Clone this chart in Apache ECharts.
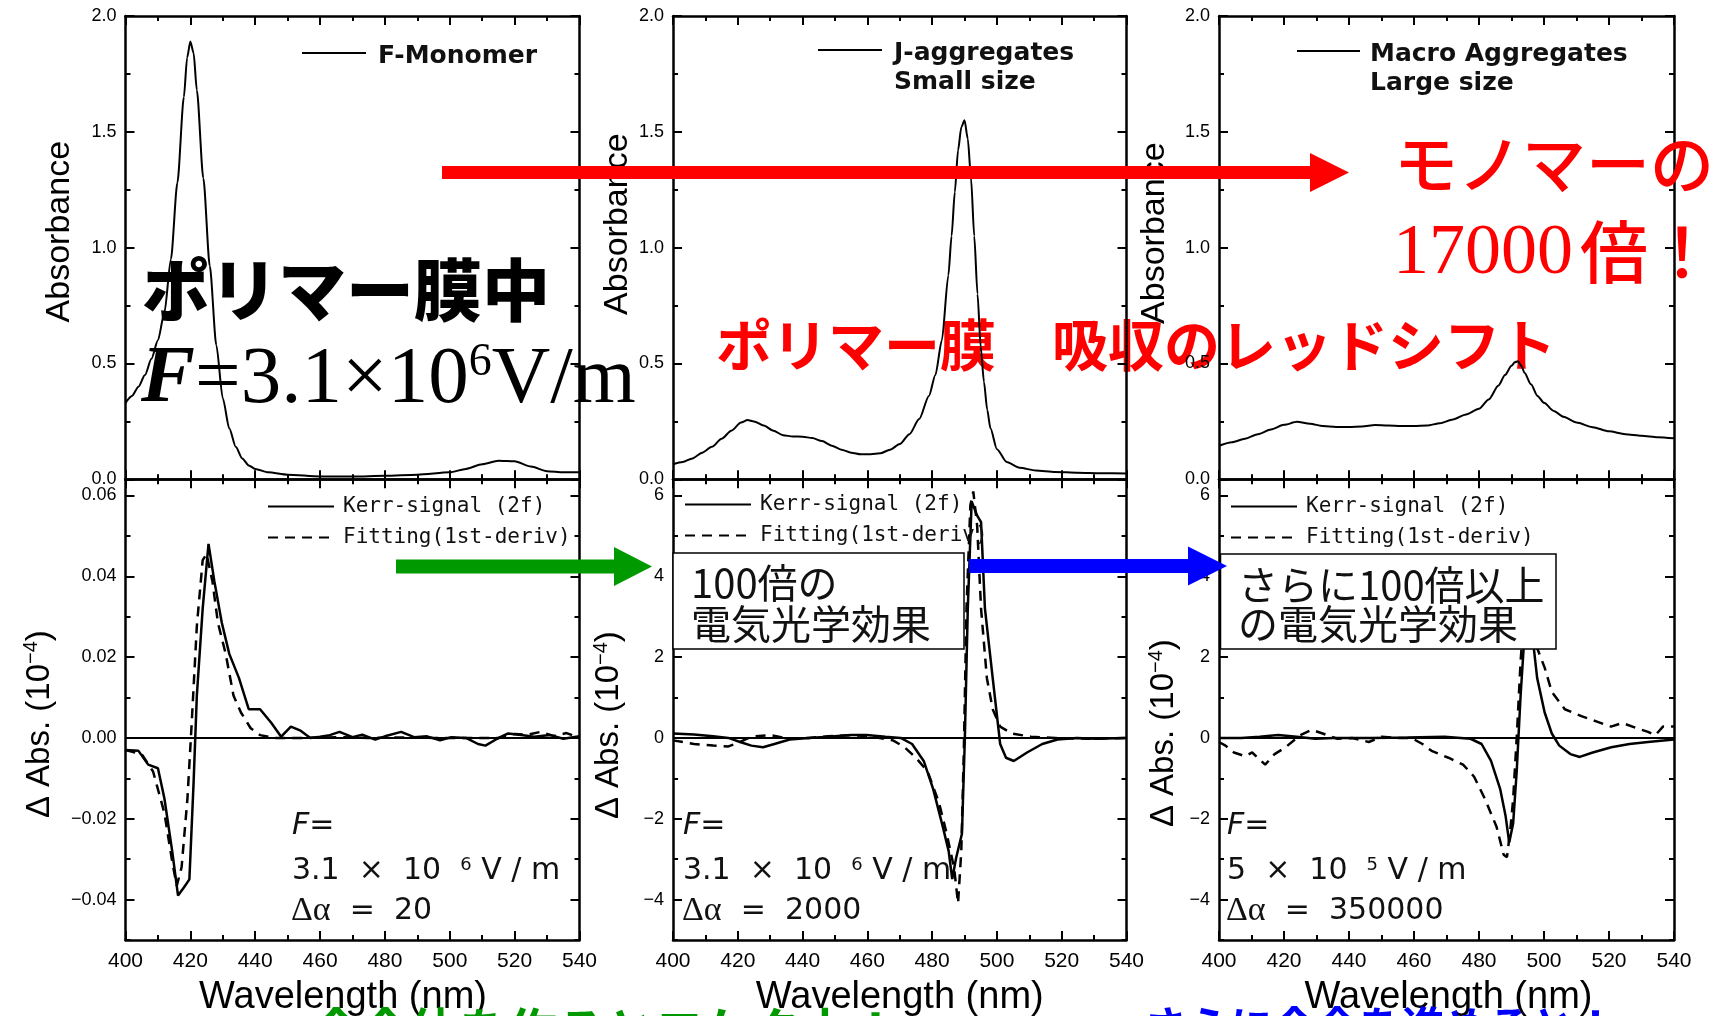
<!DOCTYPE html>
<html>
<head>
<meta charset="utf-8">
<script src="https://cdn.jsdelivr.net/npm/echarts@6/dist/echarts.min.js"></script>
<style>
html,body{margin:0;padding:0;background:#fff;}
#c{width:1710px;height:1016px;}
</style>
</head>
<body>
<div id="c"></div>
<script>
// ---- absorbance spectra (top row) ----
const monoWl  = [400,402,404,406,408,410,412,414,416,418,419,420,421,422,424,426,428,430,432,434,436,438,440,444,450,460,470,480,490,500,505,510,515,520,525,530,535,540];
const monoAbs = [0.33,0.36,0.40,0.45,0.52,0.60,0.72,0.95,1.28,1.65,1.82,1.89,1.84,1.68,1.30,0.92,0.58,0.35,0.22,0.14,0.09,0.06,0.045,0.03,0.02,0.012,0.012,0.015,0.02,0.03,0.045,0.065,0.08,0.078,0.055,0.035,0.03,0.03];

const jWl  = [400,403,406,409,412,415,418,421,423,425,428,431,434,437,440,443,446,449,452,455,458,461,464,467,470,473,476,479,481,483,485,486,487,488,489,490,491,492,493,494,495,496,497,498,500,503,507,512,518,525,532,540];
const jAbs = [0.065,0.075,0.09,0.115,0.14,0.175,0.21,0.245,0.256,0.25,0.232,0.21,0.19,0.185,0.184,0.178,0.165,0.145,0.128,0.115,0.108,0.108,0.112,0.128,0.152,0.195,0.26,0.36,0.45,0.6,0.88,1.05,1.24,1.42,1.52,1.55,1.47,1.3,1.05,0.8,0.57,0.42,0.3,0.22,0.13,0.075,0.05,0.038,0.032,0.028,0.026,0.025];

const macWl  = [400,404,408,412,416,420,424,428,432,436,440,444,448,452,456,460,464,468,472,476,480,483,486,488,490,491,492,493,494,496,498,500,503,506,510,515,520,525,530,535,540];
const macAbs = [0.145,0.16,0.175,0.195,0.215,0.235,0.248,0.24,0.23,0.226,0.226,0.228,0.234,0.232,0.23,0.23,0.232,0.242,0.258,0.28,0.305,0.345,0.405,0.45,0.49,0.505,0.51,0.49,0.46,0.41,0.36,0.33,0.295,0.27,0.245,0.225,0.207,0.195,0.188,0.182,0.177];

// ---- electroabsorption (bottom row): Kerr signal and 1st-derivative fit ----
const k1Wl  = [400,404,407,410,412,414.4,416.2,418,419.7,421,422,423.8,425.6,427.4,429.7,432,435,438,441.5,445,448,451,454,457,460,463,466,470,473,477,480,485,489,493,497,500.5,505,508.7,511,514.6,518,522,526,531,535,540];
const k1Val = [-0.003,-0.0032,-0.0066,-0.0075,-0.015,-0.028,-0.039,-0.037,-0.035,-0.011,0.0105,0.032,0.048,0.0388,0.0285,0.0208,0.0148,0.0071,0.0071,0.0037,0.0003,0.0028,0.0018,0,0.0003,0.0007,0.0015,0.0002,0.0008,-0.0004,0.0004,0.0015,0.0002,0.0004,-0.0006,0.0002,0,-0.0015,-0.0019,-0.0002,0.0011,0.0007,0.0003,0.0007,-0.0002,0.0004];
const f1Wl  = [400,405,408.5,412,414.4,415.8,417.3,419.1,420.3,422,423.8,425,426.8,428.5,430.9,433.3,435.6,438.6,441.5,446,455,465,475,485,495,505,515,520,524,528,532,536,540];
const f1Val = [-0.003,-0.004,-0.0083,-0.0186,-0.0306,-0.0366,-0.032,-0.015,0.002,0.0277,0.044,0.0455,0.0388,0.0285,0.0208,0.0105,0.0063,0.0024,0.0007,0,0,0.0002,0,0.0001,0,0,0,0.001,0.0008,0.0015,0.0005,0.0012,0];

const k2Wl  = [400,406.5,412.4,417.1,420.7,424.2,427.8,431.3,436,441.9,447.8,454.9,459.7,465.6,470.3,473.8,477.4,480.3,483.3,485.1,486.2,487.4,489.2,490.1,491,492.2,493.9,495.1,496.3,498.7,501,502.8,505.2,509.3,514,518.7,524.6,530.5,540];
const k2Val = [0.11,0.086,0.04,0,-0.1,-0.19,-0.23,-0.15,-0.04,0,0.03,0.07,0.07,0.03,0,-0.15,-0.57,-1.26,-2.2,-2.8,-3.49,-2.97,-2.37,0,3.2,5.85,5.5,5.34,3.2,1.48,-0.15,-0.49,-0.57,-0.36,-0.15,-0.04,0,-0.02,0];
const f2Wl  = [400,406.5,412.4,417.1,420.7,424.2,430.1,436,441.9,447.8,454.9,461,467.9,471.5,475,478.6,482.1,484.5,486.8,488,489,489.8,490.6,491.8,492.7,493.9,495.1,496.9,498.7,501,504.6,510.5,518,528,540];
const f2Val = [-0.06,-0.15,-0.19,-0.21,-0.1,0.03,0.07,-0.02,0,0.04,0.07,0.04,-0.06,-0.23,-0.49,-0.83,-1.6,-2.37,-3.23,-4.09,-2.8,-0.23,3.2,5.76,6.1,5.25,3.2,1.48,0.71,0.28,0.11,0.03,0,-0.02,0];

const k3Wl  = [400,406.8,412.5,418.2,423.9,429.6,435.3,446.7,458,469.4,477.4,480.8,483.7,486.5,488.2,489.3,490.5,491.6,492.8,493.8,495,495.6,496.7,497.9,500.2,502.4,504.7,508.1,511,515,520.7,526.3,532,540];
const k3Val = [0,0,0.03,0.07,0.03,-0.02,0,0,0.01,0.03,-0.02,-0.15,-0.57,-1.26,-1.94,-2.59,-2.12,-0.83,1.05,2.3,4.2,4.3,2.34,1.48,0.63,0.11,-0.19,-0.4,-0.47,-0.36,-0.23,-0.15,-0.1,-0.04];
const f3Wl  = [400,402,404.6,408,410.2,414.2,417.1,420.5,425,428.5,431.9,436.4,441,446.1,450.1,454.6,459.2,462.6,465.4,470.6,475.1,478.5,481.9,485.4,487.6,488.6,489.6,490.5,491.6,492.8,494,495.3,496.5,498,500.2,502.4,506.4,511.5,516.1,520.6,524.1,528.6,532,534.3,536.6,540];
const f3Val = [-0.1,-0.19,-0.36,-0.45,-0.36,-0.66,-0.4,-0.23,0.07,0.2,0.11,-0.02,0,-0.1,0.03,0,0,-0.15,-0.32,-0.49,-0.66,-0.96,-1.52,-2.2,-2.89,-2.95,-2.3,-1.52,0,1.9,3.2,4.0,3.6,2.2,1.74,1.14,0.71,0.54,0.41,0.28,0.37,0.24,0.15,0.07,0.28,0.28];

// ---- axis ticks / labels ----
const wlRange = [400, 540];
const absTicks = [0, 2, 0.5];
const dA1Major = [-0.04, -0.02, 0, 0.02, 0.04, 0.06];
const dA1Minor = [-0.05, -0.03, -0.01, 0.01, 0.03, 0.05];
const dA1Range = [-0.05, 0.064];
const dAMajor = [-4, -2, 0, 2, 4, 6];
const dAMinor = [-5, -3, -1, 1, 3, 5];
const dARange = [-5, 6.4];

const topLegend = [['F-Monomer'], ['J-aggregates', 'Small size'], ['Macro Aggregates', 'Large size']];
const kerrName = 'Kerr-signal (2f)';
const fitName = 'Fitting(1st-deriv)';
const fieldText = [['3.1', '6'], ['3.1', '6'], ['5', '5']];
const dAlpha = ['20', '2000', '350000'];

// ---- fonts ----
const SANS = '"Liberation Sans", Arial, sans-serif';
const MONO = '"DejaVu Sans Mono", monospace';
const DV = '"DejaVu Sans", sans-serif';
const JP = '"Noto Sans CJK JP", sans-serif';
const SERIF = '"Liberation Serif", "Times New Roman", serif';

const pts = (xs, ys) => xs.map((x, i) => [x, ys[i]]);
const minus = s => s.replace('-', '\u2212');

// ---- panel geometry ----
const cols = [{left: 125.5, width: 454}, {left: 673, width: 453.5}, {left: 1219, width: 455}];
const rows = [{top: 16, height: 463.3}, {top: 479.3, height: 460.7}];

const frameLine = {show: true, onZero: false, lineStyle: {color: '#000', width: 2.5}};
const majorTick = {show: true, inside: true, length: 9, lineStyle: {color: '#000', width: 2}};
const minorTick = {show: true, splitNumber: 2, length: 5, lineStyle: {color: '#000', width: 2}};

const grids = [], xAxes = [], yAxes = [], series = [];
const absNameGap = [49, 36, 47], absPad = [[0,0,0,32],[0,0,0,47],[0,0,0,29]];
const dANameGap = [68, 46, 37], dAPad = [[0,29,0,0],[0,31,0,0],[0,47,0,0]];
const wlPad = [[0,19,0,0],[0,0,0,0],[0,0,0,4]];
const absData = [pts(monoWl, monoAbs), pts(jWl, jAbs), pts(macWl, macAbs)];
const kerrData = [pts(k1Wl, k1Val), pts(k2Wl, k2Val), pts(k3Wl, k3Val)];
const fitData = [pts(f1Wl, f1Val), pts(f2Wl, f2Val), pts(f3Wl, f3Val)];

for (let r = 0; r < 2; r++) {
  for (let c = 0; c < 3; c++) {
    const g = grids.length;
    grids.push({left: cols[c].left, width: cols[c].width, top: rows[r].top, height: rows[r].height,
                containLabel: false, outerBoundsMode: 'none', show: false});
    const xMain = xAxes.length;
    xAxes.push({
      type: 'value', gridIndex: g, min: wlRange[0], max: wlRange[1], interval: 20, position: 'bottom',
      axisLine: frameLine, axisTick: majorTick, minorTick: minorTick, splitLine: {show: false},
      axisLabel: {show: r === 1, margin: 11, color: '#000', fontFamily: SANS, fontSize: 21},
      name: r === 1 ? 'Wavelength (nm)' : '', nameLocation: 'middle', nameGap: 39,
      nameTextStyle: {fontFamily: SANS, fontSize: 38, color: '#000', padding: wlPad[c]}
    });
    xAxes.push({
      type: 'value', gridIndex: g, min: wlRange[0], max: wlRange[1], interval: 20, position: 'top',
      axisLine: frameLine, axisTick: majorTick, minorTick: minorTick, splitLine: {show: false},
      axisLabel: {show: false}
    });
    let yMain;
    if (r === 0) {
      yMain = yAxes.length;
      yAxes.push({
        type: 'value', gridIndex: g, min: absTicks[0], max: absTicks[1], interval: absTicks[2], position: 'left',
        axisLine: frameLine, axisTick: majorTick, minorTick: minorTick, splitLine: {show: false},
        axisLabel: {margin: 9, color: '#000', fontFamily: SANS, fontSize: 18, formatter: v => v.toFixed(1)},
        name: 'Absorbance', nameLocation: 'middle', nameGap: absNameGap[c],
        nameTextStyle: {fontFamily: SANS, fontSize: 34, color: '#000', padding: absPad[c]}
      });
      yAxes.push({
        type: 'value', gridIndex: g, min: absTicks[0], max: absTicks[1], interval: absTicks[2], position: 'right',
        axisLine: frameLine, axisTick: majorTick, minorTick: minorTick, splitLine: {show: false},
        axisLabel: {show: false}
      });
      series.push({
        type: 'line', name: topLegend[c][0], xAxisIndex: xMain, yAxisIndex: yMain, data: absData[c],
        symbol: 'none', smooth: 0.25, smoothMonotone: 'x', lineStyle: {color: '#000', width: 2}, silent: true
      });
    } else {
      const rng = c === 0 ? dA1Range : dARange;
      const maj = c === 0 ? dA1Major : dAMajor;
      const mnr = c === 0 ? dA1Minor : dAMinor;
      const fmt = c === 0
        ? v => (Math.abs(v) < 1e-9 ? '0.00' : minus(v.toFixed(2)))
        : v => minus(String(Math.round(v)));
      yMain = yAxes.length;
      ['left', 'right'].forEach((pos, k) => {
        yAxes.push({
          type: 'value', gridIndex: g, min: rng[0], max: rng[1], position: pos,
          axisLine: frameLine, splitLine: {show: false},
          axisTick: Object.assign({}, majorTick, {customValues: maj}),
          axisLabel: k === 0
            ? {customValues: maj, margin: 9, color: '#000', fontFamily: SANS, fontSize: 18, formatter: fmt}
            : {show: false},
          name: k === 0 ? '{a|\u0394 Abs. (10}{s|\u22124}{a|)}' : '',
          nameLocation: 'middle', nameGap: dANameGap[c],
          nameTextStyle: {color: '#000', padding: dAPad[c], rich: {
            a: {fontFamily: SANS, fontSize: 33, color: '#000', lineHeight: 36},
            s: {fontFamily: SANS, fontSize: 20, color: '#000', verticalAlign: 'top', lineHeight: 24}
          }}
        });
        yAxes.push({
          type: 'value', gridIndex: g, min: rng[0], max: rng[1], position: pos,
          axisLine: {show: false}, splitLine: {show: false}, axisLabel: {show: false},
          axisTick: {show: true, inside: true, length: 5, lineStyle: {color: '#000', width: 2}, customValues: mnr}
        });
      });
      series.push({
        type: 'line', name: kerrName, xAxisIndex: xMain, yAxisIndex: yMain, data: kerrData[c],
        symbol: 'none', itemStyle: {color: '#000'}, lineStyle: {color: '#000', width: 2.5}, silent: true,
        markLine: {silent: true, symbol: 'none', label: {show: false},
                   lineStyle: {color: '#000', width: 2, type: 'solid'}, data: [{yAxis: 0}]}
      });
      series.push({
        type: 'line', name: fitName, xAxisIndex: xMain, yAxisIndex: yMain, data: fitData[c],
        symbol: 'none', itemStyle: {color: '#000'}, lineStyle: {color: '#000', width: 2.5, type: [10, 7]}, silent: true
      });
    }
  }
}

// ---- legends of the electroabsorption panels (line sample only) ----
const legendPos = [{left: 267, top: 496}, {left: 684, top: 494}, {left: 1230, top: 496}];
const legends = legendPos.map(p => ({
  left: p.left, top: p.top, orient: 'vertical', padding: 0, itemGap: 10,
  itemWidth: 66, itemHeight: 20, selectedMode: false, data: [kerrName, fitName],
  itemStyle: {opacity: 0, borderWidth: 0},
  textStyle: {fontFamily: MONO, fontSize: 21, color: '#111', padding: [0, 0, 0, 4]}
}));

// ---- drawn annotations ----
const graphic = [];
const txt = (x, y, text, style, z) => graphic.push({type: 'text', x, y, z: z === undefined ? 100 : z,
  style: Object.assign({text, fill: '#000', align: 'left', verticalAlign: 'middle'}, style)});
const arrow = (x0, x1, xh, yc, half, headHalf, color) => graphic.push({type: 'polygon', z: 100,
  shape: {points: [[x0, yc - half], [xh, yc - half], [xh, yc - headHalf], [x1, yc], [xh, yc + headHalf], [xh, yc + half], [x0, yc + half]]},
  style: {fill: color}});

// top-row legends
const topLegendPos = [{x1: 302, x2: 366, yl: 53, xt: 378, yt: 56}, {x1: 818, x2: 882, yl: 50, xt: 894, yt: 53},
                      {x1: 1297, x2: 1360, yl: 51, xt: 1370, yt: 54}];
topLegend.forEach((lines, c) => {
  const p = topLegendPos[c];
  graphic.push({type: 'line', z: 100, shape: {x1: p.x1, y1: p.yl, x2: p.x2, y2: p.yl}, style: {stroke: '#000', lineWidth: 2}});
  lines.forEach((t, i) => txt(p.xt, p.yt + i * 29.5, t, {fontFamily: DV, fontWeight: 'bold', fontSize: 25, fill: '#111'}));
});

// field strength and polarisability notes in the lower panels
const notePos = [{x: 292}, {x: 683}, {x: 1227}];
notePos.forEach((p, c) => {
  txt(p.x, 826, '{i|F}=', {fontFamily: DV, fontSize: 30, fill: '#111', rich: {i: {fontFamily: DV, fontStyle: 'italic', fontSize: 30, fill: '#111'}}});
  txt(p.x, 871, fieldText[c][0] + '  \u00d7  10  {s|' + fieldText[c][1] + '} V / m',
      {fontFamily: DV, fontSize: 30, fill: '#111', rich: {s: {fontFamily: DV, fontSize: 18, fill: '#111', verticalAlign: 'top', lineHeight: 22}}});
  txt(p.x - 1, 911, '{g|\u0394\u03b1}  =  ' + dAlpha[c],
      {fontFamily: DV, fontSize: 30, fill: '#111', rich: {g: {fontFamily: SERIF, fontSize: 34, fill: '#111'}}});
});

// boxed captions
graphic.push({type: 'rect', z: 100, shape: {x: 673, y: 553, width: 291, height: 96}, style: {fill: '#fff', stroke: '#000', lineWidth: 1.5}});
graphic.push({type: 'rect', z: 100, shape: {x: 1220.5, y: 554, width: 335.5, height: 95}, style: {fill: '#fff', stroke: '#000', lineWidth: 1.5}});
const boxFont = {fontFamily: JP, fontSize: 40, fill: '#111'};
txt(691, 583, '100倍の', boxFont, 101);
txt(691, 624, '電気光学効果', boxFont, 101);
txt(1238, 585, 'さらに100倍以上', boxFont, 101);
txt(1238, 624, 'の電気光学効果', boxFont, 101);

// arrows
arrow(442, 1349, 1310, 172.5, 6.5, 19.5, '#ff0000');
arrow(396, 652, 614, 566.5, 7, 19.5, '#009a00');
arrow(969, 1227, 1188, 566, 7, 19.5, '#0000ff');

// headline notes
txt(142, 290, 'ポリマー膜中', {fontFamily: JP, fontWeight: 900, fontSize: 68, fill: '#000'});
txt(141, 340, '{f|F}=3.1\u00d710{s|6}V/m', {fontFamily: SERIF, fontSize: 81, fill: '#000', verticalAlign: 'top',
  rich: {f: {fontFamily: SERIF, fontSize: 81, fontWeight: 'bold', fontStyle: 'italic', fill: '#000'},
         s: {fontFamily: SERIF, fontSize: 46, fill: '#000', verticalAlign: 'top', lineHeight: 38}}});
txt(716, 345, 'ポリマー膜\u3000吸収のレッドシフト', {fontFamily: JP, fontWeight: 'bold', fontSize: 56, fill: '#ff0000'}, -1);
txt(1394, 164, 'モノマーの', {fontFamily: JP, fontWeight: 500, fontSize: 64, fill: '#ff0000'});
txt(1393, 254, '17000', {fontFamily: SERIF, fontSize: 72, fill: '#ff0000'});
txt(1580, 252, '倍！', {fontFamily: JP, fontWeight: 500, fontSize: 68, fill: '#ff0000'});

// bottom conclusions (run off the lower edge)
txt(312, 1006, '会合体を作ると二ケタ上！', {fontFamily: JP, fontWeight: 'bold', fontSize: 49, fill: '#009a00', verticalAlign: 'top'});
txt(1144, 1005, 'さらに会合を進めると！', {fontFamily: JP, fontWeight: 'bold', fontSize: 43, fill: '#0000ff', verticalAlign: 'top'});

const chart = echarts.init(document.getElementById('c'), null, {renderer: 'canvas', width: 1710, height: 1016});
chart.setOption({
  animation: false,
  backgroundColor: '#fff',
  grid: grids,
  xAxis: xAxes,
  yAxis: yAxes,
  legend: legends,
  series: series,
  graphic: graphic
});
</script>
</body>
</html>
